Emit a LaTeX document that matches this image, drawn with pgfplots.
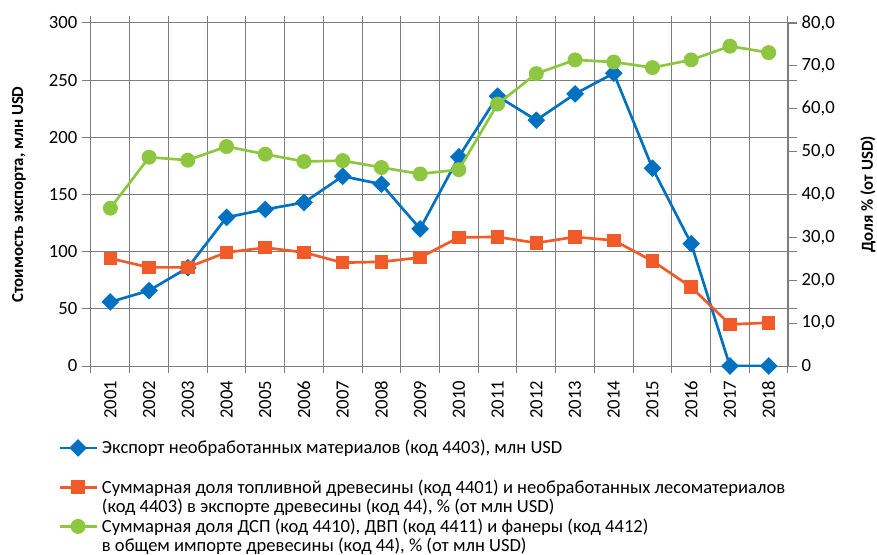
\documentclass[border=0pt]{standalone}
\usepackage{pgfplots}
\usepackage{pgfplotstable}
\pgfplotsset{compat=1.18}
\usepackage{fontspec}
\setmainfont{Carlito}
\definecolor{cblue}{RGB}{0,112,192}
\definecolor{corange}{RGB}{241,90,41}
\definecolor{cgreen}{RGB}{141,198,63}
\definecolor{cgrid}{RGB}{125,125,125}

\pgfplotstableread{
year blue orange green
2001 56 25.1 36.8
2002 66 23.0 48.7
2003 86 23.0 48.0
2004 130 26.5 51.2
2005 137 27.6 49.4
2006 143 26.5 47.7
2007 166 24.1 47.9
2008 159 24.3 46.3
2009 120 25.3 44.8
2010 183 30.0 45.8
2011 236 30.1 61.1
2012 215 28.7 68.2
2013 238 30.1 71.4
2014 256 29.3 70.9
2015 173 24.5 69.6
2016 107 18.4 71.4
2017 0 9.7 74.6
2018 0 10.1 73.1
}\datatable

\newcommand{\lstrut}{\rule[-2.8pt]{0pt}{10pt}}
\newcommand{\twolines}[2]{\vtop{\hbox{\lstrut #1}\hbox{\lstrut #2}}}

\begin{document}
\begin{tikzpicture}[font=\fontsize{14}{14.25}\selectfont]
\pgfplotsset{
  common/.style={
    width=522.75pt, height=257.25pt, scale only axis,
    xmin=2000.5, xmax=2018.5, ymin=0,
    tick align=outside,
    major tick length=6.75pt,
    minor tick length=5.25pt,
    /pgf/number format/assume math mode=true,
    axis line style={cgrid, line width=0.75pt},
    every tick/.style={cgrid, line width=0.75pt},
    label style={font=\fontsize{12.6}{14}\selectfont\bfseries},
  },
  bluestyle/.style={cblue, line width=2pt, mark=square*, mark size=3.7pt, mark options={rotate=45, solid}},
  orangestyle/.style={corange, line width=2pt, mark=square*, mark size=4.1pt},
  greenstyle/.style={cgreen, line width=2pt, mark=*, mark size=4.6pt},
}
\begin{axis}[common,
  ymax=300, ytick={0,50,...,300},
  xtick={2001,2002,...,2018},
  minor xtick={2000.5,2001.5,...,2018.5},
  x tick label style={/pgf/number format/1000 sep={}, rotate=90, anchor=east},
  xticklabel shift=1pt,
  xminorgrids, ymajorgrids,
  major x tick style={draw=none},
  grid style={cgrid, line width=0.75pt},
  minor grid style={cgrid, line width=0.75pt},
  ylabel={Стоимость экспорта, млн USD},
  ylabel style={at={([xshift=-54pt]axis description cs:0,0.5)}, anchor=center},
]
\addplot[bluestyle] table[x=year, y=blue] {\datatable};
\end{axis}
\begin{axis}[common,
  ymax=80, ytick={0,10,...,80},
  yticklabels={0,{10,0},{20,0},{30,0},{40,0},{50,0},{60,0},{70,0},{80,0}},
  axis y line*=right, axis x line=none,
  ylabel={Доля \% (от USD)},
  ylabel style={at={([xshift=60pt]axis description cs:1,0.5)}, anchor=center, rotate=0},
  legend image code/.code={\draw[mark repeat=2, mark phase=2, #1] plot coordinates {(0pt,4.4pt) (13.875pt,4.4pt) (27.75pt,4.4pt)};},
  legend style={at={([xshift=-24.75pt,yshift=-55.5pt]axis description cs:0,0)}, anchor=north west,
    draw=none, fill=none, inner sep=0pt, row sep=2.2pt, column sep=3pt,
    cells={anchor=base west}, nodes={inner sep=0pt, text depth={}, text height={}},
    font=\fontsize{13.9}{14.25}\selectfont},
]
\addlegendimage{bluestyle}
\addlegendentry{\twolines{Экспорт необработанных материалов (код 4403), млн USD}{}}
\addplot[orangestyle] table[x=year, y=orange] {\datatable};
\addlegendentry{\twolines{Суммарная доля топливной древесины (код 4401) и необработанных лесоматериалов}{(код 4403) в экспорте древесины (код 44), \% (от млн USD)}}
\addplot[greenstyle] table[x=year, y=green] {\datatable};
\addlegendentry{\twolines{Суммарная доля ДСП (код 4410), ДВП (код 4411) и фанеры (код 4412)}{в общем импорте древесины (код 44), \% (от млн USD)}}
\end{axis}
\pgfresetboundingbox
\path (-68.25pt,-141pt) rectangle (589.5pt,274.5pt);
\end{tikzpicture}
\end{document}
